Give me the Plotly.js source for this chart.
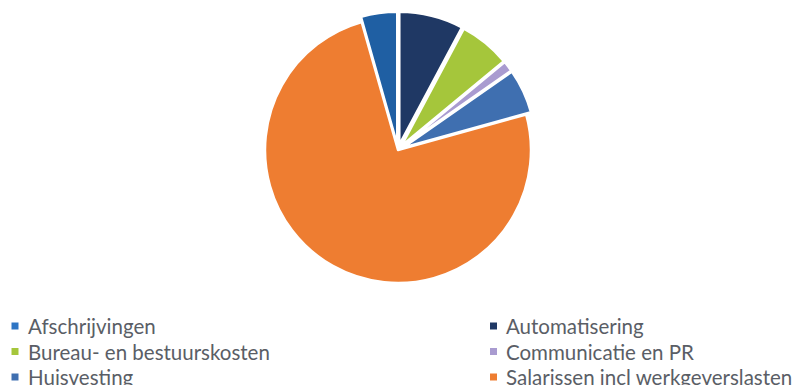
<!DOCTYPE html>
<html><head><meta charset="utf-8">
<script src="https://cdn.plot.ly/plotly-3.0.1.min.js"></script>
<style>html,body{margin:0;padding:0;background:#fff}#chart{width:801px;height:385px}</style>
</head><body><div id="chart"></div>
<script>
const categories = ["Afschrijvingen","Automatisering","Bureau- en bestuurskosten","Communicatie en PR","Huisvesting","Salarissen incl werkgeverslasten"];
const values = [4.4, 7.8, 6.2, 1.3, 5.4, 74.9];
const colors = ["#1f5fa3","#1f3864","#a5c63b","#a99bd0","#3f6fb0","#ee7d31"];
const legendColors = ["#2e75c4","#1f3864","#a5c63b","#a99bd0","#3f6fb0","#ee7d31"];
const pulls = [0.04, 0.04, 0.04, 0.04, 0.04, 0];
const total = values.reduce((a,b)=>a+b,0);
const cx = 398, cy = 150, r = 133*1.04, W = 801, H = 385;
const data = [{
  type:"pie", labels:categories, values:values, sort:false, direction:"clockwise",
  rotation: -values[0]/total*360,
  marker:{colors:colors, line:{color:"#ffffff", width:2.5}},
  pull:pulls, textinfo:"none", hoverinfo:"label+percent", showlegend:false,
  domain:{x:[(cx-r)/W,(cx+r)/W], y:[(H-cy-r)/H,(H-cy+r)/H]}
}];
// legend built from categories: two columns, row-major
const colX = [11.5, 490], rowY = [326, 351.5, 377];
const annotations = [], shapes = [];
categories.forEach((c,i)=>{
  const col = i%2, row = Math.floor(i/2);
  const x = colX[col], y = rowY[row];
  shapes.push({type:"rect", xref:"paper", yref:"paper",
    x0:x/W, x1:(x+7)/W, y0:(H-y-3.5)/H, y1:(H-y+3.5)/H,
    fillcolor:legendColors[i], line:{width:0}});
  annotations.push({xref:"paper", yref:"paper", x:(x+14)/W, y:(H-y)/H,
    xanchor:"left", yanchor:"middle", showarrow:false, text:c,
    font:{family:"Lato", size:20.5, color:"#5a5e66"}});
});
const layout = {
  width:W, height:H, margin:{l:0,r:0,t:0,b:0}, paper_bgcolor:"#fff",
  showlegend:false, annotations:annotations, shapes:shapes
};
Plotly.newPlot("chart", data, layout, {displayModeBar:false, staticPlot:true});
</script></body></html>
